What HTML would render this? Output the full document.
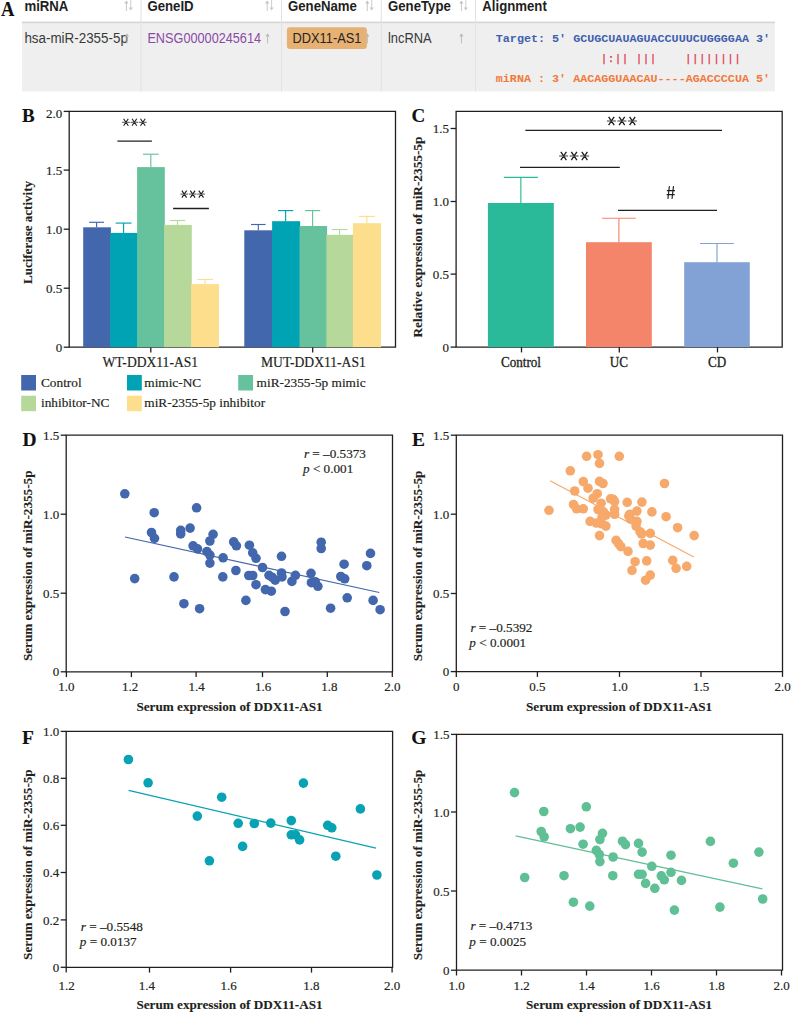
<!DOCTYPE html>
<html><head><meta charset="utf-8"><title>Figure</title>
<style>
html,body{margin:0;padding:0;background:#fff;}
body{width:792px;height:1013px;overflow:hidden;position:relative;font-family:"Liberation Serif", serif;}
svg{position:absolute;left:0;top:0;display:block;}
</style></head><body>
<svg width="792" height="1013" viewBox="0 0 792 1013">
<rect x="22" y="22" width="752.8" height="69.4" fill="#efefef"/>
<rect x="22" y="21.6" width="753" height="1.6" fill="#d4d4d4"/>
<rect x="140.5" y="0" width="1" height="91.5" fill="#e2e2e2" />
<rect x="281.0" y="0" width="1" height="91.5" fill="#e2e2e2" />
<rect x="380.8" y="0" width="1" height="91.5" fill="#e2e2e2" />
<rect x="475.0" y="0" width="1" height="91.5" fill="#e2e2e2" />
<text transform="translate(1.0,15.9) scale(1,1.075)" x="0" y="0" font-family="'Liberation Serif', serif" font-size="18.6" font-weight="bold" font-style="normal" text-anchor="start" fill="#111"  stroke="#111" stroke-width="0.12">A</text>
<text transform="translate(24.4,10.7) scale(1,1.06)" x="0" y="0" font-family="'Liberation Sans', sans-serif" font-size="13.2" font-weight="bold" font-style="normal" text-anchor="start" fill="#1e1e1e" >miRNA</text>
<text transform="translate(147.4,10.7) scale(1,1.06)" x="0" y="0" font-family="'Liberation Sans', sans-serif" font-size="13.2" font-weight="bold" font-style="normal" text-anchor="start" fill="#1e1e1e" >GeneID</text>
<text transform="translate(288,10.7) scale(1,1.06)" x="0" y="0" font-family="'Liberation Sans', sans-serif" font-size="13.2" font-weight="bold" font-style="normal" text-anchor="start" fill="#1e1e1e" >GeneName</text>
<text transform="translate(388,10.7) scale(1,1.06)" x="0" y="0" font-family="'Liberation Sans', sans-serif" font-size="13.2" font-weight="bold" font-style="normal" text-anchor="start" fill="#1e1e1e" >GeneType</text>
<text transform="translate(482.3,10.7) scale(1,1.06)" x="0" y="0" font-family="'Liberation Sans', sans-serif" font-size="13.2" font-weight="bold" font-style="normal" text-anchor="start" fill="#1e1e1e" >Alignment</text>
<path d="M126.4,11 L126.4,2" stroke="#c2c2c2" stroke-width="0.9" fill="none"/>
<path d="M124.30000000000001,3.4 L126.4,0.6 L128.5,3.4 Z" fill="#c2c2c2"/>
<path d="M130.8,0 L130.8,8.5" stroke="#c8c8c8" stroke-width="0.9" fill="none"/>
<path d="M128.70000000000002,7.6 L130.8,10.4 L132.9,7.6 Z" fill="#c8c8c8"/>
<path d="M267.2,11 L267.2,2" stroke="#c2c2c2" stroke-width="0.9" fill="none"/>
<path d="M265.09999999999997,3.4 L267.2,0.6 L269.3,3.4 Z" fill="#c2c2c2"/>
<path d="M271.59999999999997,0 L271.59999999999997,8.5" stroke="#c8c8c8" stroke-width="0.9" fill="none"/>
<path d="M269.5,7.6 L271.59999999999997,10.4 L273.7,7.6 Z" fill="#c8c8c8"/>
<path d="M367.3,11 L367.3,2" stroke="#c2c2c2" stroke-width="0.9" fill="none"/>
<path d="M365.2,3.4 L367.3,0.6 L369.40000000000003,3.4 Z" fill="#c2c2c2"/>
<path d="M371.7,0 L371.7,8.5" stroke="#c8c8c8" stroke-width="0.9" fill="none"/>
<path d="M369.6,7.6 L371.7,10.4 L373.8,7.6 Z" fill="#c8c8c8"/>
<path d="M461.4,11 L461.4,2" stroke="#c2c2c2" stroke-width="0.9" fill="none"/>
<path d="M459.29999999999995,3.4 L461.4,0.6 L463.5,3.4 Z" fill="#c2c2c2"/>
<path d="M465.79999999999995,0 L465.79999999999995,8.5" stroke="#c8c8c8" stroke-width="0.9" fill="none"/>
<path d="M463.7,7.6 L465.79999999999995,10.4 L467.9,7.6 Z" fill="#c8c8c8"/>
<text transform="translate(24.4,43.2) scale(1,1.16)" x="0" y="0" font-family="'Liberation Sans', sans-serif" font-size="13.4" font-weight="normal" font-style="normal" text-anchor="start" fill="#3a3a3a" >hsa-miR-2355-5p</text>
<text transform="translate(147.4,43.2) scale(1,1.16)" x="0" y="0" font-family="'Liberation Sans', sans-serif" font-size="12.7" font-weight="normal" font-style="normal" text-anchor="start" fill="#8a4aa6" >ENSG00000245614</text>
<rect x="286.9" y="27.3" width="80" height="21.6" rx="3" fill="#e6b172"/>
<text transform="translate(292.6,43.1) scale(1,1.17)" x="0" y="0" font-family="'Liberation Sans', sans-serif" font-size="12.8" font-weight="normal" font-style="normal" text-anchor="start" fill="#242424" >DDX11-AS1</text>
<text transform="translate(388,43.2) scale(1,1.16)" x="0" y="0" font-family="'Liberation Sans', sans-serif" font-size="12.9" font-weight="normal" font-style="normal" text-anchor="start" fill="#3a3a3a" >lncRNA</text>
<path d="M127,43.5 L127,35" stroke="#b8b8b8" stroke-width="0.9" fill="none"/>
<path d="M124.9,36.4 L127,33.2 L129.1,36.4 Z" fill="#b8b8b8"/>
<path d="M267.6,43.5 L267.6,35" stroke="#b8b8b8" stroke-width="0.9" fill="none"/>
<path d="M265.5,36.4 L267.6,33.2 L269.70000000000005,36.4 Z" fill="#b8b8b8"/>
<path d="M367.4,43.5 L367.4,35" stroke="#b8b8b8" stroke-width="0.9" fill="none"/>
<path d="M365.29999999999995,36.4 L367.4,33.2 L369.5,36.4 Z" fill="#b8b8b8"/>
<path d="M461.4,43.5 L461.4,35" stroke="#b8b8b8" stroke-width="0.9" fill="none"/>
<path d="M459.29999999999995,36.4 L461.4,33.2 L463.5,36.4 Z" fill="#b8b8b8"/>
<text x="495.8" y="42.2" font-family="'Liberation Mono', monospace" font-size="11.72" font-weight="bold" fill="#3f5fae" xml:space="preserve">Target: 5' GCUGCUAUAGUACCUUUCUGGGGAA 3'</text>
<text x="494.9" y="61.9" font-family="'Liberation Mono', monospace" font-size="11.72" font-weight="normal" fill="#e23c52" stroke="#e23c52" stroke-width="0.25" xml:space="preserve">               |:|| |||    ||||||||</text>
<text x="495.8" y="82.2" font-family="'Liberation Mono', monospace" font-size="11.72" font-weight="bold" fill="#f17a3b" xml:space="preserve">miRNA : 3' AACAGGUAACAU----AGACCCCUA 5'</text>
<text x="22" y="121.7" font-family="'Liberation Serif', serif" font-size="19" font-weight="bold" font-style="normal" text-anchor="start" fill="#111"  stroke="#111" stroke-width="0.12">B</text>
<path d="M69.2,111.4 L395.5,111.4 L395.5,347.2 L69.2,347.2 Z" fill="none" stroke="#231f20" stroke-width="1.3"/>
<line x1="63.7" y1="111.4" x2="69.2" y2="111.4" stroke="#231f20" stroke-width="1.3"/>
<text x="62.2" y="117.5" font-family="'Liberation Serif', serif" font-size="13" font-weight="normal" font-style="normal" text-anchor="end" fill="#231f20"  stroke="#231f20" stroke-width="0.18">2.0</text>
<line x1="63.7" y1="170.1" x2="69.2" y2="170.1" stroke="#231f20" stroke-width="1.3"/>
<text x="62.2" y="174.7" font-family="'Liberation Serif', serif" font-size="13" font-weight="normal" font-style="normal" text-anchor="end" fill="#231f20"  stroke="#231f20" stroke-width="0.18">1.5</text>
<line x1="63.7" y1="229.2" x2="69.2" y2="229.2" stroke="#231f20" stroke-width="1.3"/>
<text x="62.2" y="233.79999999999998" font-family="'Liberation Serif', serif" font-size="13" font-weight="normal" font-style="normal" text-anchor="end" fill="#231f20"  stroke="#231f20" stroke-width="0.18">1.0</text>
<line x1="63.7" y1="288.2" x2="69.2" y2="288.2" stroke="#231f20" stroke-width="1.3"/>
<text x="62.2" y="292.8" font-family="'Liberation Serif', serif" font-size="13" font-weight="normal" font-style="normal" text-anchor="end" fill="#231f20"  stroke="#231f20" stroke-width="0.18">0.5</text>
<line x1="63.7" y1="347.2" x2="69.2" y2="347.2" stroke="#231f20" stroke-width="1.3"/>
<text x="62.2" y="351.8" font-family="'Liberation Serif', serif" font-size="13" font-weight="normal" font-style="normal" text-anchor="end" fill="#231f20"  stroke="#231f20" stroke-width="0.18">0</text>
<line x1="150.8" y1="347.2" x2="150.8" y2="352.5" stroke="#231f20" stroke-width="1.3"/>
<line x1="312.7" y1="347.2" x2="312.7" y2="352.5" stroke="#231f20" stroke-width="1.3"/>
<text x="150.3" y="366.6" font-family="'Liberation Serif', serif" font-size="13.6" font-weight="normal" font-style="normal" text-anchor="middle" fill="#231f20"  stroke="#231f20" stroke-width="0.18">WT-DDX11-AS1</text>
<text x="313.4" y="366.6" font-family="'Liberation Serif', serif" font-size="13.6" font-weight="normal" font-style="normal" text-anchor="middle" fill="#231f20"  stroke="#231f20" stroke-width="0.18">MUT-DDX11-AS1</text>
<rect x="83.2" y="227.3" width="27.7" height="119.89999999999998" fill="#4367ad" />
<rect x="110.2" y="232.9" width="27.59999999999999" height="114.29999999999998" fill="#00a3b3" />
<rect x="137.1" y="167.1" width="27.7" height="180.1" fill="#65c29d" />
<rect x="164.1" y="224.9" width="27.7" height="122.29999999999998" fill="#b6d99b" />
<rect x="191.1" y="284.1" width="27.900000000000006" height="63.099999999999966" fill="#fdde8d" />
<line x1="96.6" y1="227.3" x2="96.6" y2="222.3" stroke="#4367ad" stroke-width="1.15"/>
<line x1="89.19999999999999" y1="222.3" x2="104.0" y2="222.3" stroke="#4367ad" stroke-width="1.15"/>
<line x1="123.6" y1="232.9" x2="123.6" y2="223.1" stroke="#00a3b3" stroke-width="1.15"/>
<line x1="115.64999999999999" y1="223.1" x2="131.54999999999998" y2="223.1" stroke="#00a3b3" stroke-width="1.15"/>
<line x1="150.8" y1="167.1" x2="150.8" y2="154.2" stroke="#65c29d" stroke-width="1.15"/>
<line x1="142.95000000000002" y1="154.2" x2="158.65" y2="154.2" stroke="#65c29d" stroke-width="1.15"/>
<line x1="177.5" y1="224.9" x2="177.5" y2="220.5" stroke="#b6d99b" stroke-width="1.15"/>
<line x1="169.75" y1="220.5" x2="185.25" y2="220.5" stroke="#b6d99b" stroke-width="1.15"/>
<line x1="205.1" y1="284.1" x2="205.1" y2="279.5" stroke="#fdde8d" stroke-width="1.15"/>
<line x1="197.25" y1="279.5" x2="212.95" y2="279.5" stroke="#fdde8d" stroke-width="1.15"/>
<rect x="244.3" y="230.3" width="28.50000000000001" height="116.89999999999998" fill="#4367ad" />
<rect x="272.1" y="221.2" width="28.099999999999977" height="126.0" fill="#00a3b3" />
<rect x="299.5" y="226.0" width="27.599999999999977" height="121.19999999999999" fill="#65c29d" />
<rect x="326.4" y="234.8" width="27.2" height="112.39999999999998" fill="#b6d99b" />
<rect x="352.9" y="223.2" width="28.100000000000023" height="124.0" fill="#fdde8d" />
<line x1="258.3" y1="230.3" x2="258.3" y2="224.5" stroke="#4367ad" stroke-width="1.15"/>
<line x1="251.0" y1="224.5" x2="265.6" y2="224.5" stroke="#4367ad" stroke-width="1.15"/>
<line x1="285.6" y1="221.2" x2="285.6" y2="210.6" stroke="#00a3b3" stroke-width="1.15"/>
<line x1="278.0" y1="210.6" x2="293.20000000000005" y2="210.6" stroke="#00a3b3" stroke-width="1.15"/>
<line x1="312.6" y1="226.0" x2="312.6" y2="210.6" stroke="#65c29d" stroke-width="1.15"/>
<line x1="305.0" y1="210.6" x2="320.20000000000005" y2="210.6" stroke="#65c29d" stroke-width="1.15"/>
<line x1="339.6" y1="234.8" x2="339.6" y2="229.5" stroke="#b6d99b" stroke-width="1.15"/>
<line x1="331.75" y1="229.5" x2="347.45000000000005" y2="229.5" stroke="#b6d99b" stroke-width="1.15"/>
<line x1="366.8" y1="223.2" x2="366.8" y2="216.4" stroke="#fdde8d" stroke-width="1.15"/>
<line x1="358.7" y1="216.4" x2="374.90000000000003" y2="216.4" stroke="#fdde8d" stroke-width="1.15"/>
<line x1="117.4" y1="141.2" x2="151.9" y2="141.2" stroke="#231f20" stroke-width="1.3"/>
<path d="M123.59,118.80 L128.31,125.80 M128.31,118.80 L123.59,125.80 M132.04,118.80 L136.76,125.80 M136.76,118.80 L132.04,125.80 M140.49,118.80 L145.21,125.80 M145.21,118.80 L140.49,125.80 " stroke="#1e1e1e" stroke-width="1.10" fill="none"/>
<path d="M122.15,122.30 L129.75,122.30 M130.60,122.30 L138.20,122.30 M139.05,122.30 L146.65,122.30 " stroke="#3a3a3a" stroke-width="0.90" fill="none"/>
<line x1="173.1" y1="208.5" x2="208.9" y2="208.5" stroke="#231f20" stroke-width="1.3"/>
<path d="M181.89,190.60 L186.61,197.60 M186.61,190.60 L181.89,197.60 M190.34,190.60 L195.06,197.60 M195.06,190.60 L190.34,197.60 M198.79,190.60 L203.51,197.60 M203.51,190.60 L198.79,197.60 " stroke="#1e1e1e" stroke-width="1.10" fill="none"/>
<path d="M180.45,194.10 L188.05,194.10 M188.90,194.10 L196.50,194.10 M197.35,194.10 L204.95,194.10 " stroke="#3a3a3a" stroke-width="0.90" fill="none"/>
<text x="0" y="0" transform="translate(32.2,232.5) rotate(-90)" font-family="'Liberation Serif', serif" font-size="13.04" font-weight="bold" text-anchor="middle" fill="#231f20" stroke="#231f20" stroke-width="0.12">Luciferase activity</text>
<rect x="21.2" y="375" width="14.8" height="15.5" fill="#4367ad" />
<text x="41.0" y="386.6" font-family="'Liberation Serif', serif" font-size="13.3" font-weight="normal" font-style="normal" text-anchor="start" fill="#231f20"  stroke="#231f20" stroke-width="0.18">Control</text>
<rect x="127" y="375" width="14.8" height="15.5" fill="#00a3b3" />
<text x="144.3" y="386.6" font-family="'Liberation Serif', serif" font-size="13.3" font-weight="normal" font-style="normal" text-anchor="start" fill="#231f20"  stroke="#231f20" stroke-width="0.18">mimic-NC</text>
<rect x="238.2" y="375" width="14.8" height="15.5" fill="#65c29d" />
<text x="256.59999999999997" y="386.6" font-family="'Liberation Serif', serif" font-size="13.3" font-weight="normal" font-style="normal" text-anchor="start" fill="#231f20"  stroke="#231f20" stroke-width="0.18">miR-2355-5p mimic</text>
<rect x="21.2" y="395.7" width="14.8" height="15.5" fill="#b6d99b" />
<text x="41.0" y="407.3" font-family="'Liberation Serif', serif" font-size="13.3" font-weight="normal" font-style="normal" text-anchor="start" fill="#231f20"  stroke="#231f20" stroke-width="0.18">inhibitor-NC</text>
<rect x="127" y="395.7" width="14.8" height="15.5" fill="#fdde8d" />
<text x="144.3" y="407.3" font-family="'Liberation Serif', serif" font-size="13.3" font-weight="normal" font-style="normal" text-anchor="start" fill="#231f20"  stroke="#231f20" stroke-width="0.18">miR-2355-5p inhibitor</text>
<text x="411.4" y="121.5" font-family="'Liberation Serif', serif" font-size="19" font-weight="bold" font-style="normal" text-anchor="start" fill="#111"  stroke="#111" stroke-width="0.12">C</text>
<path d="M456.1,111.4 L782.2,111.4 L782.2,347.1 L456.1,347.1 Z" fill="none" stroke="#231f20" stroke-width="1.3"/>
<line x1="450.6" y1="128.5" x2="456.1" y2="128.5" stroke="#231f20" stroke-width="1.3"/>
<text x="449.1" y="133.1" font-family="'Liberation Serif', serif" font-size="13" font-weight="normal" font-style="normal" text-anchor="end" fill="#231f20"  stroke="#231f20" stroke-width="0.18">1.5</text>
<line x1="450.6" y1="201.5" x2="456.1" y2="201.5" stroke="#231f20" stroke-width="1.3"/>
<text x="449.1" y="206.1" font-family="'Liberation Serif', serif" font-size="13" font-weight="normal" font-style="normal" text-anchor="end" fill="#231f20"  stroke="#231f20" stroke-width="0.18">1.0</text>
<line x1="450.6" y1="274.1" x2="456.1" y2="274.1" stroke="#231f20" stroke-width="1.3"/>
<text x="449.1" y="278.70000000000005" font-family="'Liberation Serif', serif" font-size="13" font-weight="normal" font-style="normal" text-anchor="end" fill="#231f20"  stroke="#231f20" stroke-width="0.18">0.5</text>
<line x1="450.6" y1="347.1" x2="456.1" y2="347.1" stroke="#231f20" stroke-width="1.3"/>
<text x="449.1" y="351.70000000000005" font-family="'Liberation Serif', serif" font-size="13" font-weight="normal" font-style="normal" text-anchor="end" fill="#231f20"  stroke="#231f20" stroke-width="0.18">0</text>
<rect x="487.9" y="203" width="65.89999999999998" height="144.10000000000002" fill="#2bba99" />
<line x1="520.8499999999999" y1="203" x2="520.8499999999999" y2="177.3" stroke="#2bba99" stroke-width="1.15"/>
<line x1="503.8499999999999" y1="177.3" x2="537.8499999999999" y2="177.3" stroke="#2bba99" stroke-width="1.15"/>
<rect x="586" y="242.2" width="65.79999999999995" height="104.90000000000003" fill="#f4846a" />
<line x1="618.9" y1="242.2" x2="618.9" y2="218.2" stroke="#f4846a" stroke-width="1.15"/>
<line x1="602.05" y1="218.2" x2="635.75" y2="218.2" stroke="#f4846a" stroke-width="1.15"/>
<rect x="684.2" y="262.2" width="65.59999999999991" height="84.90000000000003" fill="#82a2d6" />
<line x1="717.0" y1="262.2" x2="717.0" y2="243.5" stroke="#82a2d6" stroke-width="1.15"/>
<line x1="700.05" y1="243.5" x2="733.95" y2="243.5" stroke="#82a2d6" stroke-width="1.15"/>
<line x1="521.5" y1="347.1" x2="521.5" y2="352.4" stroke="#231f20" stroke-width="1.3"/>
<text transform="translate(521.0,367) scale(1,1.1)" x="0" y="0" font-family="'Liberation Serif', serif" font-size="13.1" font-weight="normal" font-style="normal" text-anchor="middle" fill="#231f20" stroke="#231f20" stroke-width="0.3">Control</text>
<line x1="619.3" y1="347.1" x2="619.3" y2="352.4" stroke="#231f20" stroke-width="1.3"/>
<text transform="translate(618.8,367) scale(1,1.1)" x="0" y="0" font-family="'Liberation Serif', serif" font-size="13.1" font-weight="normal" font-style="normal" text-anchor="middle" fill="#231f20" stroke="#231f20" stroke-width="0.3">UC</text>
<line x1="717.5" y1="347.1" x2="717.5" y2="352.4" stroke="#231f20" stroke-width="1.3"/>
<text transform="translate(717.0,367) scale(1,1.1)" x="0" y="0" font-family="'Liberation Serif', serif" font-size="13.1" font-weight="normal" font-style="normal" text-anchor="middle" fill="#231f20" stroke="#231f20" stroke-width="0.3">CD</text>
<line x1="525.3" y1="130.3" x2="722" y2="130.3" stroke="#231f20" stroke-width="1.3"/>
<path d="M608.61,116.85 L614.19,125.15 M614.19,116.85 L608.61,125.15 M619.11,116.85 L624.69,125.15 M624.69,116.85 L619.11,125.15 M629.61,116.85 L635.19,125.15 M635.19,116.85 L629.61,125.15 " stroke="#1e1e1e" stroke-width="1.32" fill="none"/>
<path d="M606.90,121.00 L615.90,121.00 M617.40,121.00 L626.40,121.00 M627.90,121.00 L636.90,121.00 " stroke="#3a3a3a" stroke-width="1.08" fill="none"/>
<line x1="520" y1="167.4" x2="619.8" y2="167.4" stroke="#231f20" stroke-width="1.3"/>
<path d="M560.81,151.85 L566.39,160.15 M566.39,151.85 L560.81,160.15 M571.31,151.85 L576.89,160.15 M576.89,151.85 L571.31,160.15 M581.81,151.85 L587.39,160.15 M587.39,151.85 L581.81,160.15 " stroke="#1e1e1e" stroke-width="1.32" fill="none"/>
<path d="M559.10,156.00 L568.10,156.00 M569.60,156.00 L578.60,156.00 M580.10,156.00 L589.10,156.00 " stroke="#3a3a3a" stroke-width="1.08" fill="none"/>
<line x1="618" y1="210.4" x2="717" y2="210.4" stroke="#231f20" stroke-width="1.3"/>
<path d="M669.4,186.1 L667.9,198.9 M673.5,186.1 L672.0,198.9 M666.9,190.6 L675,190.6 M666.6,194.6 L674.7,194.6" stroke="#231f20" stroke-width="1.15" fill="none"/>
<text x="0" y="0" transform="translate(422.2,237.1) rotate(-90)" font-family="'Liberation Serif', serif" font-size="13.3" font-weight="bold" text-anchor="middle" fill="#231f20" stroke="#231f20" stroke-width="0.12">Relative expression of miR-2355-5p</text>
<text x="22.4" y="445.8" font-family="'Liberation Serif', serif" font-size="19.5" font-weight="bold" font-style="normal" text-anchor="start" fill="#111"  stroke="#111" stroke-width="0.12">D</text>
<path d="M66.2,435.2 L392.5,435.2 L392.5,671.8 L66.2,671.8 Z" fill="none" stroke="#231f20" stroke-width="1.3"/>
<line x1="60.7" y1="435.2" x2="66.2" y2="435.2" stroke="#231f20" stroke-width="1.3"/>
<text x="59.2" y="439.8" font-family="'Liberation Serif', serif" font-size="13" font-weight="normal" font-style="normal" text-anchor="end" fill="#231f20"  stroke="#231f20" stroke-width="0.18">1.5</text>
<line x1="60.7" y1="514.2" x2="66.2" y2="514.2" stroke="#231f20" stroke-width="1.3"/>
<text x="59.2" y="518.8000000000001" font-family="'Liberation Serif', serif" font-size="13" font-weight="normal" font-style="normal" text-anchor="end" fill="#231f20"  stroke="#231f20" stroke-width="0.18">1.0</text>
<line x1="60.7" y1="593.2" x2="66.2" y2="593.2" stroke="#231f20" stroke-width="1.3"/>
<text x="59.2" y="597.8000000000001" font-family="'Liberation Serif', serif" font-size="13" font-weight="normal" font-style="normal" text-anchor="end" fill="#231f20"  stroke="#231f20" stroke-width="0.18">0.5</text>
<line x1="60.7" y1="671.8" x2="66.2" y2="671.8" stroke="#231f20" stroke-width="1.3"/>
<text x="59.2" y="676.4" font-family="'Liberation Serif', serif" font-size="13" font-weight="normal" font-style="normal" text-anchor="end" fill="#231f20"  stroke="#231f20" stroke-width="0.18">0</text>
<line x1="66.4" y1="671.8" x2="66.4" y2="677.0999999999999" stroke="#231f20" stroke-width="1.3"/>
<text x="66.4" y="690.9" font-family="'Liberation Serif', serif" font-size="13" font-weight="normal" font-style="normal" text-anchor="middle" fill="#231f20"  stroke="#231f20" stroke-width="0.18">1.0</text>
<line x1="131.4" y1="671.8" x2="131.4" y2="677.0999999999999" stroke="#231f20" stroke-width="1.3"/>
<text x="130.0" y="690.9" font-family="'Liberation Serif', serif" font-size="13" font-weight="normal" font-style="normal" text-anchor="middle" fill="#231f20"  stroke="#231f20" stroke-width="0.18">1.2</text>
<line x1="196.1" y1="671.8" x2="196.1" y2="677.0999999999999" stroke="#231f20" stroke-width="1.3"/>
<text x="196.5" y="690.9" font-family="'Liberation Serif', serif" font-size="13" font-weight="normal" font-style="normal" text-anchor="middle" fill="#231f20"  stroke="#231f20" stroke-width="0.18">1.4</text>
<line x1="262.5" y1="671.8" x2="262.5" y2="677.0999999999999" stroke="#231f20" stroke-width="1.3"/>
<text x="263.2" y="690.9" font-family="'Liberation Serif', serif" font-size="13" font-weight="normal" font-style="normal" text-anchor="middle" fill="#231f20"  stroke="#231f20" stroke-width="0.18">1.6</text>
<line x1="327.3" y1="671.8" x2="327.3" y2="677.0999999999999" stroke="#231f20" stroke-width="1.3"/>
<text x="329.4" y="690.9" font-family="'Liberation Serif', serif" font-size="13" font-weight="normal" font-style="normal" text-anchor="middle" fill="#231f20"  stroke="#231f20" stroke-width="0.18">1.8</text>
<line x1="392.3" y1="671.8" x2="392.3" y2="677.0999999999999" stroke="#231f20" stroke-width="1.3"/>
<text x="392.3" y="690.9" font-family="'Liberation Serif', serif" font-size="13" font-weight="normal" font-style="normal" text-anchor="middle" fill="#231f20"  stroke="#231f20" stroke-width="0.18">2.0</text>
<text x="136.4" y="711.1" font-family="'Liberation Serif', serif" font-size="13.2" font-weight="bold" font-style="normal" text-anchor="start" fill="#231f20"  stroke="#231f20" stroke-width="0.12">Serum expression of DDX11-AS1</text>
<text x="0" y="0" transform="translate(32.2,565.8) rotate(-90)" font-family="'Liberation Serif', serif" font-size="13.2" font-weight="bold" text-anchor="middle" fill="#231f20" stroke="#231f20" stroke-width="0.12">Serum expression of miR-2355-5p</text>
<text x="303.9" y="457.7" font-family="'Liberation Serif', serif" font-size="13.2" fill="#231f20" stroke="#231f20" stroke-width="0.18"><tspan font-style="italic">r</tspan> = –0.5373</text>
<text x="303" y="472.9" font-family="'Liberation Serif', serif" font-size="13.2" fill="#231f20" stroke="#231f20" stroke-width="0.18"><tspan font-style="italic">p</tspan> &lt; 0.001</text>
<line x1="125" y1="537" x2="379.3" y2="592.5" stroke="#4367ad" stroke-width="1.15"/>
<circle cx="124.8" cy="493.8" r="4.8" fill="#4367ad"/>
<circle cx="154.2" cy="512.7" r="4.8" fill="#4367ad"/>
<circle cx="196.6" cy="507.8" r="4.8" fill="#4367ad"/>
<circle cx="151.5" cy="532.5" r="4.8" fill="#4367ad"/>
<circle cx="154.5" cy="538.3" r="4.8" fill="#4367ad"/>
<circle cx="180.7" cy="530.4" r="4.8" fill="#4367ad"/>
<circle cx="180.7" cy="533.9" r="4.8" fill="#4367ad"/>
<circle cx="190.1" cy="528.1" r="4.8" fill="#4367ad"/>
<circle cx="213.1" cy="534.3" r="4.8" fill="#4367ad"/>
<circle cx="209.9" cy="541" r="4.8" fill="#4367ad"/>
<circle cx="193.1" cy="545.8" r="4.8" fill="#4367ad"/>
<circle cx="197.5" cy="548.9" r="4.8" fill="#4367ad"/>
<circle cx="206.9" cy="551.6" r="4.8" fill="#4367ad"/>
<circle cx="209.9" cy="555.1" r="4.8" fill="#4367ad"/>
<circle cx="209.9" cy="563.1" r="4.8" fill="#4367ad"/>
<circle cx="223.1" cy="557.8" r="4.8" fill="#4367ad"/>
<circle cx="233.7" cy="541.9" r="4.8" fill="#4367ad"/>
<circle cx="236.4" cy="545.8" r="4.8" fill="#4367ad"/>
<circle cx="134.7" cy="578.6" r="4.8" fill="#4367ad"/>
<circle cx="174" cy="576.9" r="4.8" fill="#4367ad"/>
<circle cx="222.8" cy="576.9" r="4.8" fill="#4367ad"/>
<circle cx="235.9" cy="570.5" r="4.8" fill="#4367ad"/>
<circle cx="183.9" cy="603.7" r="4.8" fill="#4367ad"/>
<circle cx="199.6" cy="608.7" r="4.8" fill="#4367ad"/>
<circle cx="249.4" cy="545.2" r="4.8" fill="#4367ad"/>
<circle cx="252.7" cy="552.8" r="4.8" fill="#4367ad"/>
<circle cx="256" cy="558.3" r="4.8" fill="#4367ad"/>
<circle cx="262.5" cy="567.5" r="4.8" fill="#4367ad"/>
<circle cx="248.8" cy="575.5" r="4.8" fill="#4367ad"/>
<circle cx="252.7" cy="575.5" r="4.8" fill="#4367ad"/>
<circle cx="256" cy="584.7" r="4.8" fill="#4367ad"/>
<circle cx="265.4" cy="589.6" r="4.8" fill="#4367ad"/>
<circle cx="271.3" cy="591.2" r="4.8" fill="#4367ad"/>
<circle cx="245.9" cy="600.4" r="4.8" fill="#4367ad"/>
<circle cx="281.5" cy="556.3" r="4.8" fill="#4367ad"/>
<circle cx="269" cy="575.3" r="4.8" fill="#4367ad"/>
<circle cx="272.3" cy="577.3" r="4.8" fill="#4367ad"/>
<circle cx="275.2" cy="580.2" r="4.8" fill="#4367ad"/>
<circle cx="281.5" cy="573" r="4.8" fill="#4367ad"/>
<circle cx="282" cy="576.9" r="4.8" fill="#4367ad"/>
<circle cx="291.9" cy="581.4" r="4.8" fill="#4367ad"/>
<circle cx="295.4" cy="575.3" r="4.8" fill="#4367ad"/>
<circle cx="285" cy="611.5" r="4.8" fill="#4367ad"/>
<circle cx="321.2" cy="542.2" r="4.8" fill="#4367ad"/>
<circle cx="321.2" cy="548.5" r="4.8" fill="#4367ad"/>
<circle cx="311" cy="573.3" r="4.8" fill="#4367ad"/>
<circle cx="311.4" cy="582.7" r="4.8" fill="#4367ad"/>
<circle cx="315.3" cy="581.8" r="4.8" fill="#4367ad"/>
<circle cx="317.9" cy="586.3" r="4.8" fill="#4367ad"/>
<circle cx="330.6" cy="608.2" r="4.8" fill="#4367ad"/>
<circle cx="344.1" cy="564.2" r="4.8" fill="#4367ad"/>
<circle cx="340.8" cy="576.5" r="4.8" fill="#4367ad"/>
<circle cx="344.7" cy="578.8" r="4.8" fill="#4367ad"/>
<circle cx="347.2" cy="597.8" r="4.8" fill="#4367ad"/>
<circle cx="366.8" cy="565.7" r="4.8" fill="#4367ad"/>
<circle cx="370.5" cy="553.4" r="4.8" fill="#4367ad"/>
<circle cx="373.1" cy="600.4" r="4.8" fill="#4367ad"/>
<circle cx="380.1" cy="609.7" r="4.8" fill="#4367ad"/>
<text x="411.9" y="445.8" font-family="'Liberation Serif', serif" font-size="19.5" font-weight="bold" font-style="normal" text-anchor="start" fill="#111"  stroke="#111" stroke-width="0.12">E</text>
<path d="M456.3,435.2 L782.5,435.2 L782.5,671.6 L456.3,671.6 Z" fill="none" stroke="#231f20" stroke-width="1.3"/>
<line x1="450.8" y1="435.2" x2="456.3" y2="435.2" stroke="#231f20" stroke-width="1.3"/>
<text x="449.3" y="439.8" font-family="'Liberation Serif', serif" font-size="13" font-weight="normal" font-style="normal" text-anchor="end" fill="#231f20"  stroke="#231f20" stroke-width="0.18">1.5</text>
<line x1="450.8" y1="514.2" x2="456.3" y2="514.2" stroke="#231f20" stroke-width="1.3"/>
<text x="449.3" y="518.8000000000001" font-family="'Liberation Serif', serif" font-size="13" font-weight="normal" font-style="normal" text-anchor="end" fill="#231f20"  stroke="#231f20" stroke-width="0.18">1.0</text>
<line x1="450.8" y1="593.5" x2="456.3" y2="593.5" stroke="#231f20" stroke-width="1.3"/>
<text x="449.3" y="598.1" font-family="'Liberation Serif', serif" font-size="13" font-weight="normal" font-style="normal" text-anchor="end" fill="#231f20"  stroke="#231f20" stroke-width="0.18">0.5</text>
<line x1="450.8" y1="671.6" x2="456.3" y2="671.6" stroke="#231f20" stroke-width="1.3"/>
<text x="449.3" y="676.2" font-family="'Liberation Serif', serif" font-size="13" font-weight="normal" font-style="normal" text-anchor="end" fill="#231f20"  stroke="#231f20" stroke-width="0.18">0</text>
<line x1="456.3" y1="671.6" x2="456.3" y2="676.9" stroke="#231f20" stroke-width="1.3"/>
<text x="456.3" y="690.7" font-family="'Liberation Serif', serif" font-size="13" font-weight="normal" font-style="normal" text-anchor="middle" fill="#231f20"  stroke="#231f20" stroke-width="0.18">0</text>
<line x1="537.4" y1="671.6" x2="537.4" y2="676.9" stroke="#231f20" stroke-width="1.3"/>
<text x="537.4" y="690.7" font-family="'Liberation Serif', serif" font-size="13" font-weight="normal" font-style="normal" text-anchor="middle" fill="#231f20"  stroke="#231f20" stroke-width="0.18">0.5</text>
<line x1="619.5" y1="671.6" x2="619.5" y2="676.9" stroke="#231f20" stroke-width="1.3"/>
<text x="619.5" y="690.7" font-family="'Liberation Serif', serif" font-size="13" font-weight="normal" font-style="normal" text-anchor="middle" fill="#231f20"  stroke="#231f20" stroke-width="0.18">1.0</text>
<line x1="701" y1="671.6" x2="701" y2="676.9" stroke="#231f20" stroke-width="1.3"/>
<text x="701" y="690.7" font-family="'Liberation Serif', serif" font-size="13" font-weight="normal" font-style="normal" text-anchor="middle" fill="#231f20"  stroke="#231f20" stroke-width="0.18">1.5</text>
<line x1="782.5" y1="671.6" x2="782.5" y2="676.9" stroke="#231f20" stroke-width="1.3"/>
<text x="782.5" y="690.7" font-family="'Liberation Serif', serif" font-size="13" font-weight="normal" font-style="normal" text-anchor="middle" fill="#231f20"  stroke="#231f20" stroke-width="0.18">2.0</text>
<text x="526" y="711.2" font-family="'Liberation Serif', serif" font-size="13.2" font-weight="bold" font-style="normal" text-anchor="start" fill="#231f20"  stroke="#231f20" stroke-width="0.12">Serum expression of DDX11-AS1</text>
<text x="0" y="0" transform="translate(422.2,565.85) rotate(-90)" font-family="'Liberation Serif', serif" font-size="13.2" font-weight="bold" text-anchor="middle" fill="#231f20" stroke="#231f20" stroke-width="0.12">Serum expression of miR-2355-5p</text>
<text x="470.4" y="631.7" font-family="'Liberation Serif', serif" font-size="13.2" fill="#231f20" stroke="#231f20" stroke-width="0.18"><tspan font-style="italic">r</tspan> = –0.5392</text>
<text x="469.3" y="646.8" font-family="'Liberation Serif', serif" font-size="13.2" fill="#231f20" stroke="#231f20" stroke-width="0.18"><tspan font-style="italic">p</tspan> &lt; 0.0001</text>
<line x1="550.1" y1="480.8" x2="693.8" y2="557" stroke="#f6a96b" stroke-width="1.15"/>
<circle cx="549" cy="510.3" r="4.8" fill="#f6a96b"/>
<circle cx="570.3" cy="470.8" r="4.8" fill="#f6a96b"/>
<circle cx="586.6" cy="456.3" r="4.8" fill="#f6a96b"/>
<circle cx="598" cy="454.7" r="4.8" fill="#f6a96b"/>
<circle cx="599.5" cy="463.4" r="4.8" fill="#f6a96b"/>
<circle cx="619.3" cy="456.3" r="4.8" fill="#f6a96b"/>
<circle cx="583.3" cy="481.6" r="4.8" fill="#f6a96b"/>
<circle cx="588" cy="488.2" r="4.8" fill="#f6a96b"/>
<circle cx="574.7" cy="491" r="4.8" fill="#f6a96b"/>
<circle cx="599.5" cy="481.4" r="4.8" fill="#f6a96b"/>
<circle cx="603" cy="483.5" r="4.8" fill="#f6a96b"/>
<circle cx="597.2" cy="493.7" r="4.8" fill="#f6a96b"/>
<circle cx="593.2" cy="498.2" r="4.8" fill="#f6a96b"/>
<circle cx="573.5" cy="504.5" r="4.8" fill="#f6a96b"/>
<circle cx="576.6" cy="508.8" r="4.8" fill="#f6a96b"/>
<circle cx="583.3" cy="508.8" r="4.8" fill="#f6a96b"/>
<circle cx="601.1" cy="503.2" r="4.8" fill="#f6a96b"/>
<circle cx="598" cy="509.5" r="4.8" fill="#f6a96b"/>
<circle cx="603.5" cy="511.9" r="4.8" fill="#f6a96b"/>
<circle cx="605.9" cy="515.1" r="4.8" fill="#f6a96b"/>
<circle cx="610.6" cy="498.8" r="4.8" fill="#f6a96b"/>
<circle cx="614.6" cy="501.6" r="4.8" fill="#f6a96b"/>
<circle cx="614.6" cy="509.5" r="4.8" fill="#f6a96b"/>
<circle cx="614.6" cy="514.3" r="4.8" fill="#f6a96b"/>
<circle cx="627.2" cy="502.4" r="4.8" fill="#f6a96b"/>
<circle cx="590.1" cy="521.4" r="4.8" fill="#f6a96b"/>
<circle cx="596.4" cy="523" r="4.8" fill="#f6a96b"/>
<circle cx="601.9" cy="523.8" r="4.8" fill="#f6a96b"/>
<circle cx="605.9" cy="526.1" r="4.8" fill="#f6a96b"/>
<circle cx="602" cy="517" r="4.8" fill="#f6a96b"/>
<circle cx="599.5" cy="535.6" r="4.8" fill="#f6a96b"/>
<circle cx="616.1" cy="540.4" r="4.8" fill="#f6a96b"/>
<circle cx="618.5" cy="543.5" r="4.8" fill="#f6a96b"/>
<circle cx="620.9" cy="546.7" r="4.8" fill="#f6a96b"/>
<circle cx="628" cy="551.4" r="4.8" fill="#f6a96b"/>
<circle cx="635.1" cy="561.7" r="4.8" fill="#f6a96b"/>
<circle cx="632" cy="570.4" r="4.8" fill="#f6a96b"/>
<circle cx="628.8" cy="515.9" r="4.8" fill="#f6a96b"/>
<circle cx="664.5" cy="483.5" r="4.8" fill="#f6a96b"/>
<circle cx="641.9" cy="502.1" r="4.8" fill="#f6a96b"/>
<circle cx="613.2" cy="499.3" r="4.8" fill="#f6a96b"/>
<circle cx="651.9" cy="511.9" r="4.8" fill="#f6a96b"/>
<circle cx="666.1" cy="516.7" r="4.8" fill="#f6a96b"/>
<circle cx="677.6" cy="527.7" r="4.8" fill="#f6a96b"/>
<circle cx="694.2" cy="535.6" r="4.8" fill="#f6a96b"/>
<circle cx="629.8" cy="514.3" r="4.8" fill="#f6a96b"/>
<circle cx="636.9" cy="511.1" r="4.8" fill="#f6a96b"/>
<circle cx="630.5" cy="519" r="4.8" fill="#f6a96b"/>
<circle cx="636.9" cy="521.4" r="4.8" fill="#f6a96b"/>
<circle cx="636.1" cy="526.1" r="4.8" fill="#f6a96b"/>
<circle cx="640" cy="531.7" r="4.8" fill="#f6a96b"/>
<circle cx="641.6" cy="534" r="4.8" fill="#f6a96b"/>
<circle cx="650.3" cy="533.3" r="4.8" fill="#f6a96b"/>
<circle cx="643.2" cy="543.5" r="4.8" fill="#f6a96b"/>
<circle cx="650.3" cy="545.1" r="4.8" fill="#f6a96b"/>
<circle cx="646.7" cy="560.9" r="4.8" fill="#f6a96b"/>
<circle cx="650.3" cy="575.1" r="4.8" fill="#f6a96b"/>
<circle cx="645.6" cy="580.2" r="4.8" fill="#f6a96b"/>
<circle cx="672.7" cy="560.4" r="4.8" fill="#f6a96b"/>
<circle cx="676.1" cy="568.3" r="4.8" fill="#f6a96b"/>
<circle cx="686.7" cy="566.4" r="4.8" fill="#f6a96b"/>
<text x="22" y="743.5" font-family="'Liberation Serif', serif" font-size="19.5" font-weight="bold" font-style="normal" text-anchor="start" fill="#111"  stroke="#111" stroke-width="0.12">F</text>
<path d="M66.2,731.4 L392.6,731.4 L392.6,967.3 L66.2,967.3 Z" fill="none" stroke="#231f20" stroke-width="1.3"/>
<line x1="60.7" y1="731.4" x2="66.2" y2="731.4" stroke="#231f20" stroke-width="1.3"/>
<text x="59.2" y="736.0" font-family="'Liberation Serif', serif" font-size="13" font-weight="normal" font-style="normal" text-anchor="end" fill="#231f20"  stroke="#231f20" stroke-width="0.18">1.0</text>
<line x1="60.7" y1="778.3" x2="66.2" y2="778.3" stroke="#231f20" stroke-width="1.3"/>
<text x="59.2" y="782.9" font-family="'Liberation Serif', serif" font-size="13" font-weight="normal" font-style="normal" text-anchor="end" fill="#231f20"  stroke="#231f20" stroke-width="0.18">0.8</text>
<line x1="60.7" y1="825.3" x2="66.2" y2="825.3" stroke="#231f20" stroke-width="1.3"/>
<text x="59.2" y="829.9" font-family="'Liberation Serif', serif" font-size="13" font-weight="normal" font-style="normal" text-anchor="end" fill="#231f20"  stroke="#231f20" stroke-width="0.18">0.6</text>
<line x1="60.7" y1="872.5" x2="66.2" y2="872.5" stroke="#231f20" stroke-width="1.3"/>
<text x="59.2" y="877.1" font-family="'Liberation Serif', serif" font-size="13" font-weight="normal" font-style="normal" text-anchor="end" fill="#231f20"  stroke="#231f20" stroke-width="0.18">0.4</text>
<line x1="60.7" y1="919.9" x2="66.2" y2="919.9" stroke="#231f20" stroke-width="1.3"/>
<text x="59.2" y="924.5" font-family="'Liberation Serif', serif" font-size="13" font-weight="normal" font-style="normal" text-anchor="end" fill="#231f20"  stroke="#231f20" stroke-width="0.18">0.2</text>
<line x1="60.7" y1="967.3" x2="66.2" y2="967.3" stroke="#231f20" stroke-width="1.3"/>
<text x="59.2" y="971.9" font-family="'Liberation Serif', serif" font-size="13" font-weight="normal" font-style="normal" text-anchor="end" fill="#231f20"  stroke="#231f20" stroke-width="0.18">0</text>
<line x1="66.2" y1="967.3" x2="66.2" y2="972.5999999999999" stroke="#231f20" stroke-width="1.3"/>
<text x="66.7" y="990.4" font-family="'Liberation Serif', serif" font-size="13" font-weight="normal" font-style="normal" text-anchor="middle" fill="#231f20"  stroke="#231f20" stroke-width="0.18">1.2</text>
<line x1="149.5" y1="967.3" x2="149.5" y2="972.5999999999999" stroke="#231f20" stroke-width="1.3"/>
<text x="146.9" y="990.4" font-family="'Liberation Serif', serif" font-size="13" font-weight="normal" font-style="normal" text-anchor="middle" fill="#231f20"  stroke="#231f20" stroke-width="0.18">1.4</text>
<line x1="230.6" y1="967.3" x2="230.6" y2="972.5999999999999" stroke="#231f20" stroke-width="1.3"/>
<text x="228.6" y="990.4" font-family="'Liberation Serif', serif" font-size="13" font-weight="normal" font-style="normal" text-anchor="middle" fill="#231f20"  stroke="#231f20" stroke-width="0.18">1.6</text>
<line x1="311.5" y1="967.3" x2="311.5" y2="972.5999999999999" stroke="#231f20" stroke-width="1.3"/>
<text x="311.4" y="990.4" font-family="'Liberation Serif', serif" font-size="13" font-weight="normal" font-style="normal" text-anchor="middle" fill="#231f20"  stroke="#231f20" stroke-width="0.18">1.8</text>
<line x1="392.1" y1="967.3" x2="392.1" y2="972.5999999999999" stroke="#231f20" stroke-width="1.3"/>
<text x="392.1" y="990.4" font-family="'Liberation Serif', serif" font-size="13" font-weight="normal" font-style="normal" text-anchor="middle" fill="#231f20"  stroke="#231f20" stroke-width="0.18">2.0</text>
<text x="136.4" y="1008.8" font-family="'Liberation Serif', serif" font-size="13.2" font-weight="bold" font-style="normal" text-anchor="start" fill="#231f20"  stroke="#231f20" stroke-width="0.12">Serum expression of DDX11-AS1</text>
<text x="0" y="0" transform="translate(32.2,864.6) rotate(-90)" font-family="'Liberation Serif', serif" font-size="13.2" font-weight="bold" text-anchor="middle" fill="#231f20" stroke="#231f20" stroke-width="0.12">Serum expression of miR-2355-5p</text>
<text x="80.8" y="930.5" font-family="'Liberation Serif', serif" font-size="13.2" fill="#231f20" stroke="#231f20" stroke-width="0.18"><tspan font-style="italic">r</tspan> = –0.5548</text>
<text x="79.8" y="945.7" font-family="'Liberation Serif', serif" font-size="13.2" fill="#231f20" stroke="#231f20" stroke-width="0.18"><tspan font-style="italic">p</tspan> = 0.0137</text>
<line x1="128.6" y1="790.4" x2="375.9" y2="848.1" stroke="#07a2b3" stroke-width="1.15"/>
<circle cx="128.4" cy="759.5" r="4.8" fill="#07a2b3"/>
<circle cx="148.1" cy="782.8" r="4.8" fill="#07a2b3"/>
<circle cx="221.7" cy="797.2" r="4.8" fill="#07a2b3"/>
<circle cx="197.3" cy="816.1" r="4.8" fill="#07a2b3"/>
<circle cx="238.2" cy="823.3" r="4.8" fill="#07a2b3"/>
<circle cx="254.3" cy="823.5" r="4.8" fill="#07a2b3"/>
<circle cx="242.6" cy="846.4" r="4.8" fill="#07a2b3"/>
<circle cx="209.4" cy="860.8" r="4.8" fill="#07a2b3"/>
<circle cx="270.8" cy="823.1" r="4.8" fill="#07a2b3"/>
<circle cx="303.4" cy="783.1" r="4.8" fill="#07a2b3"/>
<circle cx="291.3" cy="820.6" r="4.8" fill="#07a2b3"/>
<circle cx="291.3" cy="834.8" r="4.8" fill="#07a2b3"/>
<circle cx="295.5" cy="834.8" r="4.8" fill="#07a2b3"/>
<circle cx="299.6" cy="839.9" r="4.8" fill="#07a2b3"/>
<circle cx="327.7" cy="825.3" r="4.8" fill="#07a2b3"/>
<circle cx="331.8" cy="827.8" r="4.8" fill="#07a2b3"/>
<circle cx="360.4" cy="808.9" r="4.8" fill="#07a2b3"/>
<circle cx="335.8" cy="856.2" r="4.8" fill="#07a2b3"/>
<circle cx="376.9" cy="875" r="4.8" fill="#07a2b3"/>
<text x="411.2" y="743.8" font-family="'Liberation Serif', serif" font-size="19.5" font-weight="bold" font-style="normal" text-anchor="start" fill="#111"  stroke="#111" stroke-width="0.12">G</text>
<path d="M456.5,734.4 L782.5,734.4 L782.5,970.2 L456.5,970.2 Z" fill="none" stroke="#231f20" stroke-width="1.3"/>
<line x1="451.0" y1="734.4" x2="456.5" y2="734.4" stroke="#231f20" stroke-width="1.3"/>
<text x="449.5" y="739.0" font-family="'Liberation Serif', serif" font-size="13" font-weight="normal" font-style="normal" text-anchor="end" fill="#231f20"  stroke="#231f20" stroke-width="0.18">1.5</text>
<line x1="451.0" y1="812" x2="456.5" y2="812" stroke="#231f20" stroke-width="1.3"/>
<text x="449.5" y="816.6" font-family="'Liberation Serif', serif" font-size="13" font-weight="normal" font-style="normal" text-anchor="end" fill="#231f20"  stroke="#231f20" stroke-width="0.18">1.0</text>
<line x1="451.0" y1="891" x2="456.5" y2="891" stroke="#231f20" stroke-width="1.3"/>
<text x="449.5" y="895.6" font-family="'Liberation Serif', serif" font-size="13" font-weight="normal" font-style="normal" text-anchor="end" fill="#231f20"  stroke="#231f20" stroke-width="0.18">0.5</text>
<line x1="451.0" y1="970.2" x2="456.5" y2="970.2" stroke="#231f20" stroke-width="1.3"/>
<text x="449.5" y="974.8000000000001" font-family="'Liberation Serif', serif" font-size="13" font-weight="normal" font-style="normal" text-anchor="end" fill="#231f20"  stroke="#231f20" stroke-width="0.18">0</text>
<line x1="456.5" y1="970.2" x2="456.5" y2="975.5" stroke="#231f20" stroke-width="1.3"/>
<text x="456.5" y="989.7" font-family="'Liberation Serif', serif" font-size="13" font-weight="normal" font-style="normal" text-anchor="middle" fill="#231f20"  stroke="#231f20" stroke-width="0.18">1.0</text>
<line x1="521.5" y1="970.2" x2="521.5" y2="975.5" stroke="#231f20" stroke-width="1.3"/>
<text x="521.5" y="989.7" font-family="'Liberation Serif', serif" font-size="13" font-weight="normal" font-style="normal" text-anchor="middle" fill="#231f20"  stroke="#231f20" stroke-width="0.18">1.2</text>
<line x1="586.5" y1="970.2" x2="586.5" y2="975.5" stroke="#231f20" stroke-width="1.3"/>
<text x="586.5" y="989.7" font-family="'Liberation Serif', serif" font-size="13" font-weight="normal" font-style="normal" text-anchor="middle" fill="#231f20"  stroke="#231f20" stroke-width="0.18">1.4</text>
<line x1="651.5" y1="970.2" x2="651.5" y2="975.5" stroke="#231f20" stroke-width="1.3"/>
<text x="651.5" y="989.7" font-family="'Liberation Serif', serif" font-size="13" font-weight="normal" font-style="normal" text-anchor="middle" fill="#231f20"  stroke="#231f20" stroke-width="0.18">1.6</text>
<line x1="716.5" y1="970.2" x2="716.5" y2="975.5" stroke="#231f20" stroke-width="1.3"/>
<text x="716.5" y="989.7" font-family="'Liberation Serif', serif" font-size="13" font-weight="normal" font-style="normal" text-anchor="middle" fill="#231f20"  stroke="#231f20" stroke-width="0.18">1.8</text>
<line x1="781.5" y1="970.2" x2="781.5" y2="975.5" stroke="#231f20" stroke-width="1.3"/>
<text x="781.5" y="989.7" font-family="'Liberation Serif', serif" font-size="13" font-weight="normal" font-style="normal" text-anchor="middle" fill="#231f20"  stroke="#231f20" stroke-width="0.18">2.0</text>
<text x="526" y="1009.4" font-family="'Liberation Serif', serif" font-size="13.2" font-weight="bold" font-style="normal" text-anchor="start" fill="#231f20"  stroke="#231f20" stroke-width="0.12">Serum expression of DDX11-AS1</text>
<text x="0" y="0" transform="translate(422.2,864.9) rotate(-90)" font-family="'Liberation Serif', serif" font-size="13.2" font-weight="bold" text-anchor="middle" fill="#231f20" stroke="#231f20" stroke-width="0.12">Serum expression of miR-2355-5p</text>
<text x="470.4" y="930.3" font-family="'Liberation Serif', serif" font-size="13.2" fill="#231f20" stroke="#231f20" stroke-width="0.18"><tspan font-style="italic">r</tspan> = –0.4713</text>
<text x="469.3" y="945.5" font-family="'Liberation Serif', serif" font-size="13.2" fill="#231f20" stroke="#231f20" stroke-width="0.18"><tspan font-style="italic">p</tspan> = 0.0025</text>
<line x1="515.6" y1="835.9" x2="762.3" y2="888.9" stroke="#5fbf95" stroke-width="1.15"/>
<circle cx="514.5" cy="792.6" r="4.8" fill="#5fbf95"/>
<circle cx="543.8" cy="811.5" r="4.8" fill="#5fbf95"/>
<circle cx="586.3" cy="806.8" r="4.8" fill="#5fbf95"/>
<circle cx="541.2" cy="831.5" r="4.8" fill="#5fbf95"/>
<circle cx="544.2" cy="836.8" r="4.8" fill="#5fbf95"/>
<circle cx="570.4" cy="828.7" r="4.8" fill="#5fbf95"/>
<circle cx="580.1" cy="827.1" r="4.8" fill="#5fbf95"/>
<circle cx="602.5" cy="833.3" r="4.8" fill="#5fbf95"/>
<circle cx="599.9" cy="839.5" r="4.8" fill="#5fbf95"/>
<circle cx="583.1" cy="844.2" r="4.8" fill="#5fbf95"/>
<circle cx="596.3" cy="850.4" r="4.8" fill="#5fbf95"/>
<circle cx="599.3" cy="854.5" r="4.8" fill="#5fbf95"/>
<circle cx="599.9" cy="861.6" r="4.8" fill="#5fbf95"/>
<circle cx="613.1" cy="857" r="4.8" fill="#5fbf95"/>
<circle cx="622.5" cy="841.2" r="4.8" fill="#5fbf95"/>
<circle cx="625.5" cy="844.6" r="4.8" fill="#5fbf95"/>
<circle cx="524.7" cy="877.5" r="4.8" fill="#5fbf95"/>
<circle cx="564" cy="875.7" r="4.8" fill="#5fbf95"/>
<circle cx="612.8" cy="875.7" r="4.8" fill="#5fbf95"/>
<circle cx="573.4" cy="902.2" r="4.8" fill="#5fbf95"/>
<circle cx="589.8" cy="906.1" r="4.8" fill="#5fbf95"/>
<circle cx="638.5" cy="843.4" r="4.8" fill="#5fbf95"/>
<circle cx="642.1" cy="852.1" r="4.8" fill="#5fbf95"/>
<circle cx="671" cy="855.2" r="4.8" fill="#5fbf95"/>
<circle cx="651.8" cy="866.3" r="4.8" fill="#5fbf95"/>
<circle cx="638.5" cy="874.3" r="4.8" fill="#5fbf95"/>
<circle cx="642.1" cy="874.3" r="4.8" fill="#5fbf95"/>
<circle cx="645.6" cy="883.4" r="4.8" fill="#5fbf95"/>
<circle cx="654.8" cy="888.3" r="4.8" fill="#5fbf95"/>
<circle cx="661.3" cy="875.8" r="4.8" fill="#5fbf95"/>
<circle cx="664.3" cy="879.8" r="4.8" fill="#5fbf95"/>
<circle cx="671" cy="872.3" r="4.8" fill="#5fbf95"/>
<circle cx="681.5" cy="880.4" r="4.8" fill="#5fbf95"/>
<circle cx="674.4" cy="910.1" r="4.8" fill="#5fbf95"/>
<circle cx="710.4" cy="841.4" r="4.8" fill="#5fbf95"/>
<circle cx="733.4" cy="863.2" r="4.8" fill="#5fbf95"/>
<circle cx="758.9" cy="852.1" r="4.8" fill="#5fbf95"/>
<circle cx="762.7" cy="899" r="4.8" fill="#5fbf95"/>
<circle cx="719.9" cy="907.1" r="4.8" fill="#5fbf95"/>
</svg>
</body></html>
